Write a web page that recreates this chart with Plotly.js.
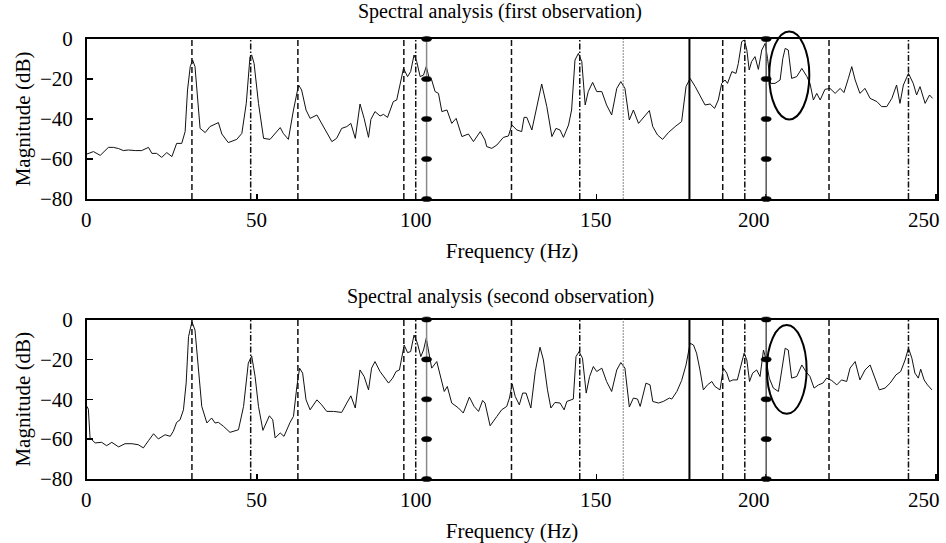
<!DOCTYPE html>
<html><head><meta charset="utf-8">
<script src="https://cdn.plot.ly/plotly-3.0.1.min.js"></script>
<style>html,body{margin:0;padding:0;background:#fff}#chart{width:946px;height:543px}</style>
</head><body><div id="chart"></div>
<script>
// ---- data ----
const freq1 = [0,1.9,3.9,6.3,7.8,9.3,10.7,12.2,14.2,16.1,18.1,19.1,20.5,22.0,23.5,25.0,26.4,27.9,28.9,29.6,30.4,31.1,31.8,32.5,33.3,34.8,36.2,38.7,39.7,41.6,44.1,45.6,46.9,48.0,48.5,49.2,50.5,52.0,53.9,56.9,57.8,59.3,60.8,62.3,63.2,64.5,65.7,67.7,69.6,72.1,73.5,75.0,76.5,77.7,79.0,80.4,81.6,82.9,83.6,84.8,86.3,
87.3,88.5,90.2,91.2,92.2,93.2,94.4,95.3,96.3,97.1,98.1,99.1,99.9,100.8,101.5,102.5,103.5,104.5,106.0,107.4,108.7,110.4,112.3,113.8,115.8,117.2,117.7,119.2,120.7,122.6,124.1,125.1,126.6,128.0,128.7,129.5,131.0,132.4,133.9,135.4,136.9,138.1,139.3,140.3,141.8,142.7,143.7,144.7,145.7,146.7,147.6,148.9,150.1,151.6,153.0,154.5,156.0,157.2,158.4,159.7,160.9,162.4,163.8,165.6,166.6,168.0,169.5,171.2,
173.2,175.1,176.4,177.6,179.1,180.5,182.0,183.5,184.8,185.9,186.9,187.9,188.6,189.9,191.1,191.8,192.8,193.6,194.3,195.0,195.7,196.7,197.7,198.7,199.7,200.4,201.3,202.6,204.1,204.9,205.6,206.5,207.5,209.0,210.5,212.0,212.9,213.9,214.9,215.9,217.3,218.8,220.3,221.8,222.9,224.2,225.2,226.2,227.6,229.1,230.6,232.6,234.0,235.5,237.0,238.4,239.4,240.4,241.9,243.3,244.3,245.3,246.8,248.1,249.0];
const mag1 = [-57.5,-56.3,-58.2,-54.2,-54.2,-54.8,-55.8,-55.5,-55.8,-55.8,-54.2,-57.2,-57.2,-59.2,-56.8,-58.8,-52.2,-52.2,-46.3,-25.5,-13.8,-10.5,-13.8,-28.8,-44.7,-46.8,-43.8,-41.8,-47.5,-51.8,-50.2,-47.2,-32.2,-8.8,-8.0,-12.2,-32.2,-49.7,-50.2,-44.3,-47.2,-50.2,-35.5,-23.0,-25.5,-35.5,-39.7,-38.0,-43.8,-51.3,-49.7,-44.7,-43.8,-42.2,-49.7,-32.5,-39.7,-49.2,-40.2,-36.3,-38.5,
-37.7,-39.2,-31.3,-30.5,-23,-14.7,-18.8,-16.3,-8,-11.3,-18.8,-18,-13.8,-19.7,-20.5,-26.3,-27.2,-36.3,-35.5,-42.2,-39.7,-48.8,-47.5,-51.3,-46.3,-50.5,-53.8,-54.7,-53,-49.2,-48.5,-43,-45.5,-46.3,-39.2,-39.2,-45.5,-33.8,-22.5,-33.8,-48.8,-44.7,-45.5,-49.2,-43,-35.5,-10.5,-7.2,-11.3,-33,-26.3,-21.7,-26.3,-26.3,-33,-38,-24.7,-21.3,-24.7,-40.5,-35.5,-42.2,-39.2,-35.8,-43.8,-48,-50.2,-46.8,
-43.8,-41.3,-23.8,-19.7,-23.8,-28,-33,-32.5,-34.7,-30.5,-22.2,-20.5,-22.2,-16.3,-17.2,-12.2,-1.3,-0.5,-5.5,-15.5,-11.3,-8.8,-15.2,-5.5,-2.2,-9.7,-22.2,-22.2,-20.5,-9.7,-4.7,-5.5,-19.7,-18.8,-14.7,-18.8,-22.2,-30.5,-27.2,-30.5,-25.2,-24.7,-27.2,-24.7,-26.8,-19.7,-13.8,-20.5,-27.2,-24.7,-29.7,-31.3,-33.8,-33.8,-29.7,-23,-32.2,-23,-17.2,-22.2,-28,-23.8,-32.2,-28,-29.7];

const freq2 = [0,0.4,0.9,2.4,4.3,5.8,7.3,9.3,11.2,13.2,15.1,16.6,18.1,19.6,21.0,23.0,24.5,25.4,26.4,27.4,28.4,29.2,29.9,30.9,31.8,32.8,33.8,35.3,36.7,37.7,38.7,40.2,42.1,44.6,46.1,47.5,48.5,49.5,50.5,51.8,52.7,53.7,54.7,55.4,56.9,58.0,59.8,60.8,61.8,62.6,63.5,64.5,65.7,67.7,69.1,70.6,72.6,75.0,76.5,77.7,79.0,80.4,81.6,82.9,83.8,84.8,
86.3,88.8,90.0,91.0,92.0,93.4,94.4,95.3,96.3,97.3,98.3,99.1,99.9,100.5,101.5,103.0,104.0,105.2,106.1,107.4,109.4,110.8,112.6,114.0,115.3,116.5,117.2,118.7,120.7,122.1,123.6,124.4,125.2,126.1,127.3,128.3,129.3,130.7,132.0,133.4,134.4,135.6,136.6,137.8,139.3,140.5,141.3,143.2,144.0,144.9,145.9,147.0,148.0,149.1,150.1,151.6,153.0,154.5,156.0,157.2,158.4,159.7,160.9,162.1,162.9,164.6,165.8,166.6,168.3,169.7,171.5,
172.2,173.7,175.1,176.4,177.6,178.6,179.5,180.5,181.5,182.7,184.0,184.9,186.4,187.4,188.4,189.2,190.2,191.5,192.5,193.5,194.3,195.1,196.0,197.2,198.2,199.2,200.0,200.9,202.1,203.6,204.6,205.6,206.5,207.5,209.0,210.5,211.7,212.9,214.1,215.4,216.7,217.8,219.3,220.8,222.2,223.7,224.7,226.2,227.6,229.1,230.6,231.8,233.3,235.0,236.5,238.2,239.6,240.9,241.9,242.9,243.8,244.8,245.5,246.5,247.5,248.8];
const mag2 = [-43.6,-45,-59.4,-61.9,-61.6,-63.3,-61.6,-63.9,-62.3,-62.3,-62.8,-64.4,-60.8,-57.3,-59.9,-57.8,-58.6,-56.1,-51.6,-50.3,-45.3,-31.9,-8.6,-1.1,-5.3,-23.6,-43.6,-51.9,-49.4,-51.9,-51.6,-53.6,-56.6,-55.3,-43.6,-21.9,-18.3,-28.6,-43.6,-55.6,-51.9,-48.3,-50.3,-59.4,-56.9,-58.6,-51.6,-48.6,-33.6,-24.4,-26.9,-40.3,-45.3,-40.3,-42.8,-46.1,-46.1,-46.6,-41.9,-38.3,-44.4,-25.3,-28.6,-35.3,-24.4,-21.1,
-26.1,-31.9,-29.4,-26.1,-25.3,-12.8,-16.6,-16.1,-7.8,-11.9,-18.6,-15.3,-9.4,-15.3,-24.4,-21.1,-28.6,-36.1,-33.6,-41.9,-44.4,-46.9,-38.9,-43.6,-46.1,-40.6,-41.9,-53.3,-48.6,-45.3,-43.6,-39.4,-32.3,-38.6,-42.8,-36.9,-36.9,-44.4,-26.1,-13.9,-20.3,-35.3,-44.4,-41.6,-41.9,-45.3,-41.1,-39.9,-18.6,-16.1,-19.4,-36.9,-28.6,-23.6,-26.1,-24.4,-31.1,-36.1,-25.3,-21.6,-24.4,-43.9,-39.4,-39.9,-43.6,-31.9,-32.8,-41.1,-41.9,-41.1,-39.4,
-39.9,-36.1,-30.6,-22.8,-11.9,-12.8,-16.9,-25.3,-35.3,-32.8,-31.1,-33.6,-35.3,-24.4,-26.9,-31.1,-30.3,-30.3,-22.8,-16.9,-20.3,-31.1,-26.9,-25.3,-28.6,-15.3,-20.3,-29.4,-34.4,-36.1,-25.3,-14.4,-15.3,-29.4,-28.6,-22.8,-26.1,-28.6,-34.4,-32.8,-31.9,-29.4,-30.6,-32.8,-30.3,-31.1,-24.4,-21.1,-30.3,-25.3,-22.8,-28.6,-35.3,-34.4,-31.9,-27.8,-26.1,-20.3,-14.4,-19.4,-26.9,-29.4,-24.9,-30.3,-32.8,-35.3];

// reference frequency lines (Hz)
const dashedLines = [30.9, 62.1, 93.3, 125.0, 187.2, 218.5];
const dashDotLines = [48.2, 96.8, 145.1, 193.7, 241.9];
const dottedLines = [157.9];
const solidLines = [177.4];
const markedLines = [100, 200];
const markerLevels = [0, -20, -40, -60, -80];
// circled regions: [f0, f1, dB0, dB1]
const circle1 = [200.9, 212.7, -40.2, 3.7];
const circle2 = [200.2, 211.9, -47.3, -2.8];

const xTicks = [0, 50, 100, 150, 200, 250];
const xTickLabels = ['0', '50', '100', '150', '200', '250'];
const yTicks = [0, -20, -40, -60, -80];
const xRange = [0, 250.3];
const yRange = [-80, 0];

// ---- drawing ----
const FONT = 'Liberation Serif';
const dom = v => (v - yRange[0]) / (yRange[1] - yRange[0]);
// the original figure sets some tick labels a little left of their tick (px)
const labelShift = [-1, 0, -11, 0, -12, -12];

function linesFor(xr, yr) {
  const s = [];
  const yd = yr + ' domain';
  const add = (f, line) => s.push({type:'line', xref:xr, yref:yd, x0:f, x1:f, y0:0, y1:1, line:line, layer:'above'});
  dashedLines.forEach(f => add(f, {color:'#111', width:1.5, dash:'6px,3px'}));
  dashDotLines.forEach(f => add(f, {color:'#111', width:1.5, dash:'6px,2px,1.5px,2px'}));
  dottedLines.forEach(f => add(f, {color:'#888', width:1, dash:'2px,1px'}));
  solidLines.forEach(f => add(f, {color:'#000', width:2}));
  markedLines.forEach((f, i) => {
    add(f, {color: i === 0 ? '#8a8a8a' : '#555', width:1.5});
    markerLevels.forEach(v => s.push({type:'circle', xref:xr, yref:yd,
      x0:f-1.5, x1:f+1.5, y0:dom(v)-0.016, y1:dom(v)+0.016,
      fillcolor:'#000', line:{color:'#000', width:0.5}, layer:'above'}));
  });
  return s;
}
function ellipse(xr, yr, c) {
  return {type:'circle', xref:xr, yref:yr + ' domain', x0:c[0], x1:c[1], y0:dom(c[2]), y1:dom(c[3]),
    line:{color:'#000', width:2}, layer:'above'};
}
function tickLabelsFor(xr, yr) {
  return xTicks.map((v, i) => ({text:xTickLabels[i], xref:xr, yref:yr + ' domain', x:v, y:0,
    xanchor:'center', yanchor:'middle', xshift:labelShift[i], yshift:-21, showarrow:false,
    font:{family:FONT, size:21, color:'#000'}}));
}

const tickFont = {family:FONT, size:21, color:'#000'};
const titleFont = {family:FONT, size:21, color:'#000'};
const axX = {range:xRange, tickvals:xTicks, ticks:'inside', ticklen:5, tickwidth:1.5, tickcolor:'#000',
  showline:true, mirror:true, linecolor:'#000', linewidth:2, showgrid:false, zeroline:false,
  showticklabels:false,
  title:{text:'Frequency (Hz)', font:titleFont, standoff:43}};
const axY = {range:yRange, tickvals:yTicks, ticks:'inside', ticklen:6, tickwidth:1.5, tickcolor:'#000',
  showline:true, mirror:true, linecolor:'#000', linewidth:2, showgrid:false, zeroline:false,
  tickfont:tickFont, ticklabelstandoff:8,
  title:{text:'Magnitude (dB)', font:titleFont, standoff:4}};

const traces = [
  {x:freq1, y:mag1, xaxis:'x', yaxis:'y', mode:'lines', line:{color:'#111', width:1}, showlegend:false, hoverinfo:'skip'},
  {x:freq2, y:mag2, xaxis:'x2', yaxis:'y2', mode:'lines', line:{color:'#111', width:1}, showlegend:false, hoverinfo:'skip'}
];

const layout = {
  width:946, height:543,
  margin:{l:87, r:9, t:39, b:64, pad:0},
  paper_bgcolor:'#fff', plot_bgcolor:'#fff',
  font:{family:FONT, color:'#000'},
  showlegend:false,
  xaxis: Object.assign({}, axX, {anchor:'y', domain:[0,1]}),
  yaxis: Object.assign({}, axY, {anchor:'x', domain:[0.6364,1]}),
  xaxis2: Object.assign({}, axX, {anchor:'y2', domain:[0,1]}),
  yaxis2: Object.assign({}, axY, {anchor:'x2', domain:[0,0.3625]}),
  shapes: [].concat(linesFor('x','y'), linesFor('x2','y2'), [ellipse('x','y',circle1), ellipse('x2','y2',circle2)]),
  annotations: [
    {text:'Spectral analysis (first observation)', xref:'paper', yref:'paper', x:0.486, y:1.0614,
     xanchor:'center', yanchor:'middle', showarrow:false, font:{family:FONT, size:20, color:'#000'}},
    {text:'Spectral analysis (second observation)', xref:'paper', yref:'paper', x:0.486, y:0.4159,
     xanchor:'center', yanchor:'middle', showarrow:false, font:{family:FONT, size:20, color:'#000'}}
  ].concat(tickLabelsFor('x','y'), tickLabelsFor('x2','y2'))
};

Plotly.newPlot('chart', traces, layout, {staticPlot:true, displayModeBar:false});
</script></body></html>
